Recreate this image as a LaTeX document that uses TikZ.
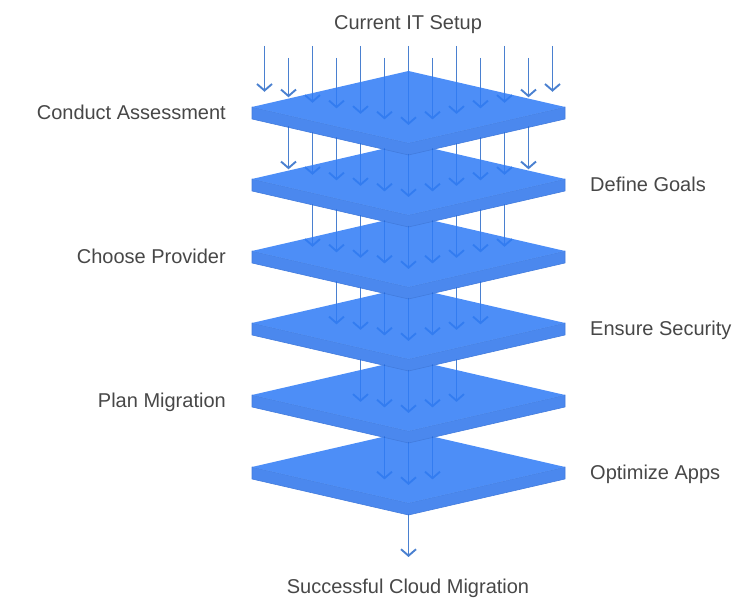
\documentclass[tikz,border=0pt]{standalone}
\usepackage{fontspec}
\setmainfont{Liberation Sans}
\usetikzlibrary{arrows.meta}
\definecolor{platetop}{HTML}{307CF6}
\definecolor{plateside}{HTML}{2D75EB}
\definecolor{plateedge}{HTML}{2466D8}
\definecolor{arrowblue}{HTML}{4A80D0}
\definecolor{labelgray}{HTML}{474747}
\begin{document}
\begin{tikzpicture}
[x=1pt,y=-1pt,
  facedecorate/.style={fill=platetop},
  sidedecorate/.style={fill=plateside,draw=plateedge,line width=0.6pt,line join=round},
  arrowdecorate/.style={-{Straight Barb[length=6.5pt,width=15pt]},line width=1.9pt,draw=arrowblue},
  labeldecorate/.style={font=\fontsize{20}{23}\selectfont,text=labelgray,inner sep=0pt}]
\useasboundingbox (0,0) rectangle (756,601);
%% arrows falling onto the first plate
\foreach \j in {-6,...,6} {
  \pgfmathsetmacro{\xa}{408.5+24*\j}
  \pgfmathsetmacro{\ys}{mod(abs(\j),2)==1 ? 58 : 46}
  \pgfmathsetmacro{\ye}{125-5.54*abs(\j)}
  \draw[arrowdecorate] (\xa,\ys) -- (\xa,\ye);
}
%% arrows between the plates
\foreach \k in {1,...,6} {
  \pgfmathtruncatemacro{\m}{6-\k}
  \foreach \j in {-\m,...,\m} {
    \pgfmathsetmacro{\xa}{408.5+24*\j}
    \pgfmathsetmacro{\ys}{154+72*(\k-1)-5.54*abs(\j)}
    \pgfmathsetmacro{\ye}{125+72*\k-5.54*abs(\j)}
    \draw[arrowdecorate] (\xa,\ys) -- (\xa,\ye);
  }
}
%% plates, lowest first
\begin{scope}[transparency group,opacity=0.86]
\foreach \k in {6,5,...,1} {
  \pgfmathsetmacro{\yt}{71+72*(\k-1)}
  \coordinate (back\k) at (408.5,\yt);
  \coordinate (left\k) at (252,\yt+36);
  \coordinate (right\k) at (565,\yt+36);
  \coordinate (front\k) at (408.5,\yt+72);
  \coordinate (leftlow\k) at (252,\yt+48);
  \coordinate (rightlow\k) at (565,\yt+48);
  \coordinate (frontlow\k) at (408.5,\yt+84);
  \draw[sidedecorate] (left\k) -- (front\k) -- (right\k) -- (rightlow\k)
    -- (frontlow\k) -- (leftlow\k) -- cycle;
  \fill[facedecorate] (back\k) -- (right\k) -- (front\k) -- (left\k) -- cycle;
}
\end{scope}
%% labels
\foreach \name/\y/\txt in {assess/120/Conduct Assessment,
  provider/264/Choose Provider, plan/408/Plan Migration} {
  \node[labeldecorate,anchor=base east] (\name) at (226,\y) {\txt};
}
\foreach \name/\y/\txt in {goals/192/Define Goals,
  security/336/Ensure Security, optimize/480/Optimize Apps} {
  \node[labeldecorate,anchor=base west] (\name) at (590,\y) {\txt};
}
\node[labeldecorate,anchor=base] (setup) at (408,30) {Current IT Setup};
\node[labeldecorate,anchor=base] (cloud) at (408,594) {Successful Cloud Migration};
\end{tikzpicture}
\end{document}
